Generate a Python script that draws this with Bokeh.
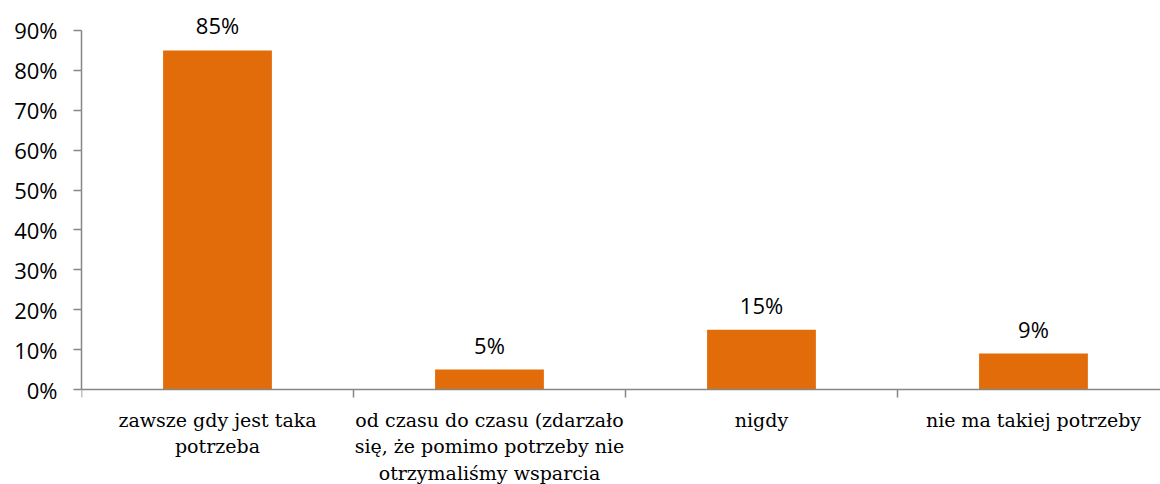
from bokeh.plotting import figure
from bokeh.models import Range1d, FixedTicker, NumeralTickFormatter, ColumnDataSource
from bokeh.embed import file_html
from bokeh.resources import INLINE
from bokeh.core.properties import value

categories = [
    "zawsze gdy jest taka\npotrzeba",
    "od czasu do czasu (zdarzało\nsię, że pomimo potrzeby nie\notrzymaliśmy wsparcia",
    "nigdy",
    "nie ma takiej potrzeby",
]
shares = [0.85, 0.05, 0.15, 0.09]
y_ticks = [0.0, 0.1, 0.2, 0.3, 0.4, 0.5, 0.6, 0.7, 0.8, 0.9]

BAR = "#E36C0A"
AXIS = "#868686"
SANS = "Open Sans"
SERIF = "DejaVu Serif"

xs = [i + 0.5 for i in range(len(categories))]
src = ColumnDataSource(dict(x=xs, top=shares, base=[0.0] * len(xs), cat=categories,
                            lab=[f"{round(v*100)}%" for v in shares]))

p = figure(width=1160, height=484, output_backend="svg", toolbar_location=None,
           x_range=Range1d(0, 3.967), y_range=Range1d(-0.238, 0.975),
           min_border_left=81, min_border_right=0, min_border_top=0, min_border_bottom=0)
p.outline_line_color = None
p.background_fill_color = "white"
p.border_fill_color = "white"
p.xgrid.visible = False
p.ygrid.visible = False

p.vbar(x="x", top="top", width=0.4, source=src, color=BAR, line_color=None)
p.text(x="x", y="top", text="lab", source=src, text_align="center", text_baseline="middle",
       y_offset=-25, text_font=value(SANS), text_font_size="22px", text_color="#000000")
p.text(x="x", y="base", text="cat", source=src, text_align="center", text_baseline="top",
       y_offset=19, text_font=value(SERIF), text_font_size="19px", text_line_height=1.22,
       text_color="#000000")

# y axis
ya = p.yaxis[0]
ya.ticker = FixedTicker(ticks=y_ticks, minor_ticks=[])
ya.formatter = NumeralTickFormatter(format="0%")
ya.bounds = (0, 0.9)
ya.axis_line_color = AXIS
ya.axis_line_width = 1.5
ya.major_tick_line_color = AXIS
ya.major_tick_line_width = 1.5
ya.major_tick_in = 0
ya.major_tick_out = 8
ya.minor_tick_line_color = None
ya.major_label_standoff = 16
ya.major_label_text_font = SANS
ya.major_label_text_font_size = "22px"
ya.major_label_text_color = "#000000"

# x axis, drawn at value 0 inside the frame
xa = p.xaxis[0]
xa.fixed_location = 0
xa.ticker = FixedTicker(ticks=xs, minor_ticks=[float(i) for i in range(len(categories) + 1)])
xa.axis_line_color = AXIS
xa.axis_line_width = 1.5
xa.major_tick_line_color = None
xa.major_tick_in = 0
xa.major_tick_out = 0
xa.minor_tick_line_color = AXIS
xa.minor_tick_line_width = 1.5
xa.minor_tick_in = 0
xa.minor_tick_out = 8
xa.major_label_text_font_size = "0px"
xa.major_label_text_color = None

open("out.html", "w").write(file_html(p, INLINE))
